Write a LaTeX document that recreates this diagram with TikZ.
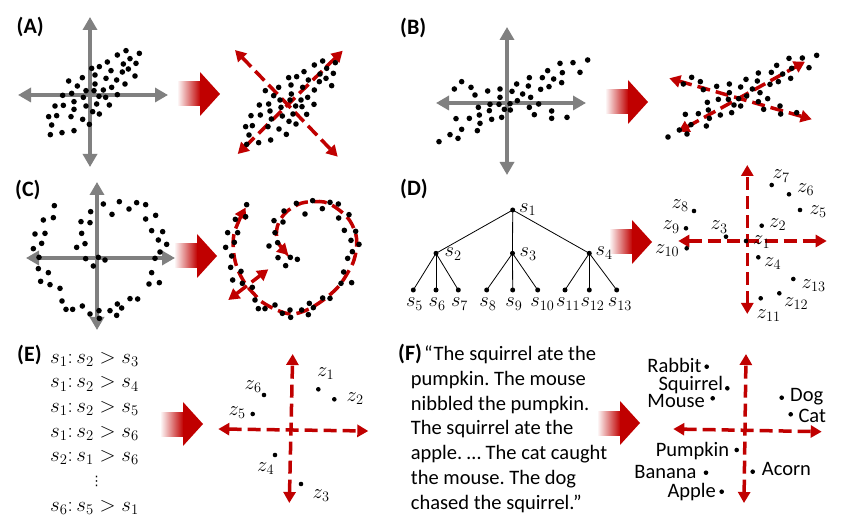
\RequirePackage{fix-cm}
\documentclass[tikz,border=0pt]{standalone}
\usepackage[no-math]{fontspec}
\setmainfont{Carlito}
\newfontfamily\symfont{DejaVu Sans}
\usetikzlibrary{arrows.meta}
\definecolor{myred}{RGB}{192,0,0}
\definecolor{axgray}{RGB}{128,128,128}
\newcommand\bigarr[2]{%
  \shade[left color=white, right color=myred] ({#1-43},{#2-12}) rectangle ({#1-19.5},{#2+12});
  \fill[myred] (#1,#2) -- ({#1-20},{#2-22}) -- ({#1-20},{#2+22}) -- cycle;}
\tikzset{
  gax/.style={draw=axgray, line width=4pt, {Triangle[length=13pt,width=14pt]}-{Triangle[length=13pt,width=14pt]}},
  rax/.style={draw=myred, line width=3.5pt, dash pattern=on 13pt off 6pt, {Triangle[length=11pt,width=12pt]}-{Triangle[length=11pt,width=12pt]}},
  panel/.style={font=\fontsize{22}{24}\selectfont\bfseries, inner sep=0pt, anchor=base west},
  txt/.style={font=\fontsize{20.5}{24}\selectfont\frenchspacing, inner sep=0pt},
  mth/.style={font=\fontsize{20.5}{22}\selectfont, inner sep=0pt},
  emth/.style={font=\fontsize{21}{23}\selectfont, inner sep=0pt, anchor=base west},
  tdot/.style={circle, fill=black, inner sep=0pt, minimum size=5pt},
  zdot/.style={circle, fill=black, inner sep=0pt, minimum size=4.6pt},
  edge/.style={draw=black, line width=0.8pt}
}
\begin{document}
\frenchspacing
\begin{tikzpicture}[x=1pt,y=-1pt]
\fill[white] (0,0) rectangle (854,526);
\useasboundingbox (0,0) rectangle (854,526);

% ---------- panel labels ----------
\node[panel] (labA) at (16.5,34) {(A)};
\node[panel] (labB) at (400,35) {(B)};
\node[panel] (labC) at (15,196.5) {(C)};
\node[panel] (labD) at (400,196) {(D)};
\node[panel] (labE) at (17,361.5) {(E)};
\node[panel] (labF) at (398,360.7) {(F)};

% ---------- big arrows ----------
\bigarr{220}{94}
\bigarr{648}{102}
\bigarr{217}{256}
\bigarr{652}{242}
\bigarr{203}{424}
\bigarr{640}{423}

% ---------- (A) ----------
\draw[gax] (18,95) -- (168,95);
\draw[gax] (90,167) -- (90,17);
\foreach \x/\y in {378/152, 418/160, 352/165, 390/176, 370/192, 408/190, 322/186, 298/200, 275/205, 385/207, 367/216, 333/212, 405/228, 285/225, 318/235, 350/240, 247/233, 206/243, 285/252, 375/252, 232/258, 335/262, 310/270, 258/272, 282/272, 215/280, 188/286, 352/284, 297/289, 317/292, 250/292, 222/305, 290/312, 328/315, 165/318, 190/316, 258/318, 222/328, 278/335, 298/342, 170/347, 146/350, 213/350, 248/358, 155/375, 268/373, 151/404, 186/398, 222/392}
  \fill ({\x/3},{\y/3}) circle[radius=2.8];

\draw[rax] (237.7,154) -- (342.7,50.7);
\draw[rax] (235,50) -- (337.7,156.7);
\foreach \x/\y in {368/183, 406/188, 343/195, 380/205, 360/222, 400/220, 312/215, 290/230, 266/233, 378/235, 325/240, 358/245, 395/257, 273/255, 236/262, 308/262, 196/272, 343/270, 221/287, 274/282, 323/292, 240/300, 270/300, 303/300, 178/315, 206/312, 287/318, 306/320, 342/313, 243/322, 210/333, 181/345, 153/347, 247/348, 279/342, 320/343, 214/357, 267/364, 288/372, 157/377, 137/380, 204/380, 237/387, 259/403, 147/405, 176/428, 212/420, 140/433}
  \fill ({200+\x/3},{\y/3}) circle[radius=2.8];

% ---------- (B) ----------
\draw[gax] (436,103) -- (586,103);
\draw[gax] (507,175) -- (507,27);
\foreach \x/\y in {563/180, 519/188, 480/190, 443/212, 487/218, 540/217, 461/237, 427/233, 388/233, 185/245, 163/267, 213/262, 350/252, 447/260, 485/248, 263/273, 300/267, 336/274, 385/258, 368/282, 422/268, 225/285, 300/292, 352/302, 392/292, 270/313, 297/313, 330/311, 416/312, 235/322, 268/332, 313/328, 331/330, 388/322, 455/333, 238/345, 208/355, 168/356, 275/358, 305/352, 403/344, 455/355, 501/352, 240/370, 185/388, 232/392, 150/404, 174/415, 117/425}
  \fill ({400+\x/3},{\y/3}) circle[radius=2.8];

\draw[rax] (678.3,131.7) -- (805,61.7);
\draw[rax] (669.3,78.3) -- (811.7,119.3);
\foreach \x/\y in {530/166, 447/175, 487/174, 410/196, 455/205, 507/203, 355/219, 394/217, 428/222, 452/235, 155/232, 181/245, 130/252, 318/238, 352/243, 415/245, 390/253, 268/252, 230/259, 302/261, 337/267, 190/269, 268/278, 360/278, 320/288, 296/296, 235/298, 265/298, 383/296, 202/307, 355/305, 282/315, 302/318, 420/318, 470/338, 371/328, 136/343, 205/330, 175/341, 241/345, 275/338, 422/342, 208/355, 153/374, 199/378, 118/390, 141/402, 84/411}
  \fill ({640+\x/3},{\y/3}) circle[radius=2.8];

% ---------- (C) ----------
\draw[gax] (26,258) -- (175,258);
\draw[gax] (97,330) -- (97,182);
\foreach \x/\y in {163/107, 130/150, 160/143, 105/192, 135/190, 125/220, 100/236, 117/262, 115/296, 145/308, 122/334, 150/344, 180/355, 186/393, 198/418, 218/418, 247/408, 270/432, 297/422, 298/445, 330/422, 352/402, 350/436, 365/414, 390/386, 413/387, 447/342, 478/338, 455/308, 465/265, 480/246, 500/223, 475/210, 488/185, 455/182, 437/147, 467/136, 437/104, 410/98, 387/117, 358/95, 310/102, 336/133, 272/125, 243/155, 270/158, 245/190, 255/221, 230/232, 257/266, 280/288, 295/262, 315/270}
  \fill ({\x/3},{170+\y/3}) circle[radius=2.8];

\draw[rax] plot[smooth, tension=0.6] coordinates {(245.7,207.5) (235,230) (233.3,248.3) (236.7,266.7) (245,283.3) (255,295) (262,302) (276.7,310) (291.7,314) (306.7,310) (323.3,300) (338.3,286.7) (348.3,271.7) (354,260) (356.7,245) (355,231.7) (346.7,216.7) (328.3,203.3) (311.7,201.7) (298.3,204.3) (285,213.3) (277.3,226.7) (277.8,241.7) (288.3,255)};
\draw[rax] (228.3,300) -- (268.3,269.3);
\foreach \x/\y in {140/104, 137/140, 106/148, 83/188, 113/188, 103/217, 77/232, 95/258, 92/292, 123/304, 98/330, 127/340, 157/352, 165/390, 175/416, 195/416, 225/405, 247/430, 270/420, 272/442, 305/420, 328/400, 325/434, 340/413, 368/384, 390/385, 423/340, 455/338, 431/306, 443/265, 457/245, 477/223, 453/211, 467/184, 433/181, 416/144, 447/134, 415/102, 390/97, 367/116, 338/92, 289/100, 315/132, 252/123, 222/152, 249/156, 225/188, 233/218, 207/228, 234/263, 257/287, 271/262, 292/268}
  \fill ({200+\x/3},{170+\y/3}) circle[radius=2.8];

% ---------- (D) tree ----------
\node[tdot] (s1) at (512.7,210) {};
\node[tdot] (s2) at (436,253.3) {};
\node[tdot] (s3) at (512.5,253.3) {};
\node[tdot] (s4) at (589.3,253.3) {};
\node[tdot] (s5) at (413.3,290) {};
\node[tdot] (s6) at (436,290) {};
\node[tdot] (s7) at (458.3,290) {};
\node[tdot] (s8) at (486.7,290) {};
\node[tdot] (s9) at (512.7,290) {};
\node[tdot] (s10) at (537.7,290) {};
\node[tdot] (s11) at (565,290) {};
\node[tdot] (s12) at (589.3,290) {};
\node[tdot] (s13) at (616.7,290) {};
\foreach \a/\b in {s1/s2, s1/s3, s1/s4, s2/s5, s2/s6, s2/s7, s3/s8, s3/s9, s3/s10, s4/s11, s4/s12, s4/s13}
  \draw[edge] (\a.center) -- (\b.center);
\node[mth, anchor=base west] (ls1) at (519,212.5) {$s_1$};
\node[mth, anchor=base west] (ls2) at (444.5,257) {$s_2$};
\node[mth, anchor=base west] (ls3) at (519.5,257) {$s_3$};
\node[mth, anchor=base west] (ls4) at (595.5,256) {$s_4$};
\foreach \n/\x in {5/413.3, 6/436, 7/458.3, 8/486.7, 9/512.7, 10/537.7}
  \node[mth, anchor=base west] (ls\n) at ({\x-7.5},307) {$s_{\n}$};
\foreach \n/\x in {11/565, 12/589.3, 13/616.7}
  \node[mth, anchor=base west] (ls\n) at ({\x-9},307) {$s_{\n}$};

% ---------- (D) embedding ----------
\draw[rax] (678.3,241) -- (826.7,241);
\draw[rax] (747.3,314) -- (747.3,165);
\foreach \n/\dx/\dy/\lx/\ly in {1/746/241/753/245, 2/761.7/225.7/769/227.7, 3/726/236.7/710.5/230, 4/758.3/257.3/764/266.7, 5/800/210/809.5/214.5, 6/789/194.3/797/192.8, 7/771.7/185/772.5/179, 8/694/211/671.5/208.3, 9/686/228.3/662.5/230, 10/686.7/248.3/655/253.3, 11/760.7/298.3/756.5/318.3, 12/779.3/293.3/784/306.7, 13/793.3/279/801.5/288.3}
{
  \node[zdot] (dz\n) at (\dx,\dy) {};
  \node[mth, anchor=base west] (ldz\n) at (\lx,\ly) {$z_{\n}$};
}

% ---------- (E) ----------
\node[emth] (e1) at (50,363.3) {$s_1\colon s_2 > s_3$};
\node[emth] (e2) at (50,388) {$s_1\colon s_2 > s_4$};
\node[emth] (e3) at (50,412.7) {$s_1\colon s_2 > s_5$};
\node[emth] (e4) at (50,437.3) {$s_1\colon s_2 > s_6$};
\node[emth] (e5) at (50,461.7) {$s_2\colon s_1 > s_6$};
\node[font=\symfont\fontsize{13}{14}\selectfont, inner sep=0pt] (e6) at (96.7,481.7) {⋮};
\node[emth] (e7) at (50,511.7) {$s_6\colon s_5 > s_1$};

\draw[rax] (218.3,429) -- (368.3,431);
\draw[rax] (289.3,503) -- (292.7,354);
\foreach \n/\dx/\dy/\lx/\ly in {1/318.3/389.3/317/376.7, 2/334.3/399.3/346.5/401.7, 3/301/484/312.5/498.3, 4/275/455/257/471.7, 5/252.7/414/228.5/415, 6/264/395/244.5/389.3}
{
  \node[zdot] (ez\n) at (\dx,\dy) {};
  \node[mth, anchor=base west] (lez\n) at (\lx,\ly) {$z_{\n}$};
}

% ---------- (F) ----------
\node[txt, anchor=base west] (f1) at (424,360.7) {“The squirrel ate the};
\node[txt, anchor=base west] (f2) at (410.7,385) {pumpkin. The mouse};
\node[txt, anchor=base west] (f3) at (410.7,410) {nibbled the pumpkin.};
\node[txt, anchor=base west] (f4) at (410.7,434.3) {The squirrel ate the};
\node[txt, anchor=base west] (f5) at (410.7,459.3) {apple. … The cat caught};
\node[txt, anchor=base west] (f6) at (410.7,484) {the mouse. The dog};
\node[txt, anchor=base west] (f7) at (410.7,509) {chased the squirrel.”};

\draw[rax] (673.3,429) -- (821.7,431.7);
\draw[rax] (744,503) -- (746,354);

\node[zdot] (wRabbit) at (706.7,366.7) {};
\node[txt, anchor=base east] (tRabbit) at (701.7,373) {Rabbit};
\node[zdot] (wSquirrel) at (727.3,388.3) {};
\node[txt, anchor=base east] (tSquirrel) at (723.3,391) {Squirrel};
\node[zdot] (wMouse) at (712.7,398.3) {};
\node[txt, anchor=base east] (tMouse) at (705,407) {Mouse};
\node[zdot] (wDog) at (781.7,397.7) {};
\node[txt, anchor=base west] (tDog) at (790,402) {Dog};
\node[zdot] (wCat) at (790.7,414.3) {};
\node[txt, anchor=base west] (tCat) at (798.3,422) {Cat};
\node[zdot] (wPumpkin) at (736.7,450) {};
\node[txt, anchor=base east] (tPumpkin) at (729.3,456) {Pumpkin};
\node[zdot] (wBanana) at (706,472.7) {};
\node[txt, anchor=base east] (tBanana) at (696.7,478) {Banana};
\node[zdot] (wAcorn) at (752.7,471.7) {};
\node[txt, anchor=base west] (tAcorn) at (761.7,475.5) {Acorn};
\node[zdot] (wApple) at (721.7,491.7) {};
\node[txt, anchor=base east] (tApple) at (716,497) {Apple};
\end{tikzpicture}
\end{document}
